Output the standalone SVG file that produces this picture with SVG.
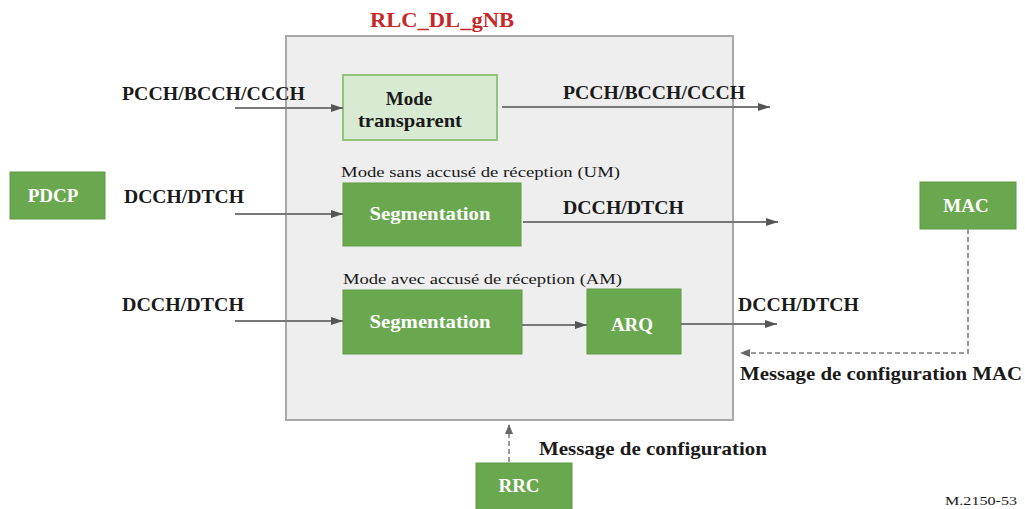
<svg xmlns="http://www.w3.org/2000/svg" width="1025" height="509" viewBox="0 0 1025 509">
<defs>
<marker id="ah" viewBox="0 0 12 8" refX="12" refY="4" markerWidth="12" markerHeight="8" markerUnits="userSpaceOnUse" orient="auto">
<path d="M0,0 L12,4 L0,8 Z" fill="#555"/>
</marker>
<marker id="ahd" viewBox="0 0 10 8" refX="10" refY="4" markerWidth="10" markerHeight="8" markerUnits="userSpaceOnUse" orient="auto">
<path d="M0,0 L10,4 L0,8 Z" fill="#666"/>
</marker>
</defs>
<style>
text{font-family:'Liberation Serif','DejaVu Serif',serif}
.lbl{font-weight:bold;font-size:19px;fill:#1a1a1a}
.cap{font-size:15.5px;fill:#1a1a1a}
.wt{font-weight:bold;font-size:19px;fill:#ffffff}
.g{fill:#6aa84f;stroke:#5e9a45;stroke-width:1}
.ln{stroke:#777;stroke-width:2;fill:none;marker-end:url(#ah)}
.dl{stroke:#9a9a9a;stroke-width:2;fill:none;stroke-dasharray:5 3;marker-end:url(#ahd)}
</style>
<rect width="1025" height="509" fill="#ffffff"/>
<g id="rlc">
<rect x="286" y="36" width="447" height="384" fill="#eeeeee" stroke="#a8a8a8" stroke-width="2"/>
<text x="442" y="27" text-anchor="middle" font-weight="bold" font-size="20" fill="#c62828" textLength="144" lengthAdjust="spacingAndGlyphs">RLC_DL_gNB</text>
<text class="cap" x="341" y="177" textLength="279" lengthAdjust="spacingAndGlyphs">Mode sans accusé de réception (UM)</text>
<text class="cap" x="343" y="284" textLength="279" lengthAdjust="spacingAndGlyphs">Mode avec accusé de réception (AM)</text>
</g>
<g id="tm">
<rect x="343" y="75" width="154" height="65" fill="#d9ead3" stroke="#93c47d" stroke-width="2"/>
<text class="lbl" x="409" y="105" text-anchor="middle" font-size="18">Mode</text>
<text class="lbl" x="410" y="127" text-anchor="middle" font-size="18" textLength="104" lengthAdjust="spacingAndGlyphs">transparent</text>
</g>
<g id="um_seg">
<rect class="g" x="343" y="183" width="178" height="63"/>
<text class="wt" x="430" y="220" text-anchor="middle" font-size="18" textLength="121" lengthAdjust="spacingAndGlyphs">Segmentation</text>
</g>
<g id="am_seg">
<rect class="g" x="343" y="290" width="179" height="64"/>
<text class="wt" x="430" y="328" text-anchor="middle" font-size="18" textLength="121" lengthAdjust="spacingAndGlyphs">Segmentation</text>
</g>
<g id="arq">
<rect class="g" x="587" y="289" width="94" height="65"/>
<text class="wt" x="632" y="331" text-anchor="middle" font-size="18">ARQ</text>
</g>
<g id="pdcp">
<rect class="g" x="10" y="172" width="95" height="47"/>
<text class="wt" x="53" y="202" text-anchor="middle">PDCP</text>
</g>
<g id="mac">
<rect class="g" x="920" y="182" width="96" height="47"/>
<text class="wt" x="966" y="212" text-anchor="middle">MAC</text>
</g>
<g id="rrc">
<rect class="g" x="476" y="463" width="96" height="50"/>
<text class="wt" x="519" y="492" text-anchor="middle">RRC</text>
</g>
<g id="connectors">
<line class="ln" x1="235" y1="108" x2="343" y2="108"/>
<line class="ln" x1="502" y1="107" x2="770" y2="107"/>
<line class="ln" x1="235" y1="214" x2="343" y2="214"/>
<line class="ln" x1="523" y1="222" x2="778" y2="222"/>
<line class="ln" x1="235" y1="321" x2="343" y2="321"/>
<line class="ln" x1="522" y1="325" x2="587" y2="325"/>
<line class="ln" x1="681" y1="324" x2="777" y2="324"/>
<path class="dl" d="M968,229 L968,353 L740,353"/>
<line class="dl" x1="509" y1="462" x2="509" y2="424"/>
</g>
<g id="labels">
<text class="lbl" x="122" y="100" textLength="183" lengthAdjust="spacingAndGlyphs">PCCH/BCCH/CCCH</text>
<text class="lbl" x="563" y="99" textLength="182" lengthAdjust="spacingAndGlyphs">PCCH/BCCH/CCCH</text>
<text class="lbl" x="124" y="203" textLength="120" lengthAdjust="spacingAndGlyphs">DCCH/DTCH</text>
<text class="lbl" x="563" y="214" textLength="121" lengthAdjust="spacingAndGlyphs">DCCH/DTCH</text>
<text class="lbl" x="122" y="311" textLength="122" lengthAdjust="spacingAndGlyphs">DCCH/DTCH</text>
<text class="lbl" x="738" y="311" textLength="121" lengthAdjust="spacingAndGlyphs">DCCH/DTCH</text>
<text class="lbl" x="740" y="380" textLength="282" lengthAdjust="spacingAndGlyphs">Message de configuration MAC</text>
<text class="lbl" x="539" y="455" textLength="228" lengthAdjust="spacingAndGlyphs">Message de configuration</text>
<text x="945" y="505" font-size="12" fill="#1a1a1a" textLength="72" lengthAdjust="spacingAndGlyphs">M.2150-53</text>
</g>
</svg>
